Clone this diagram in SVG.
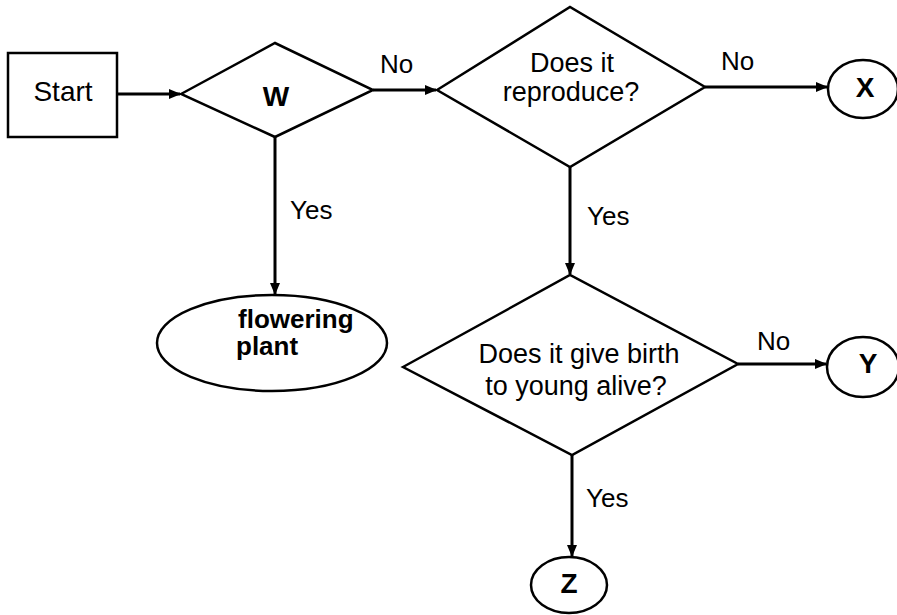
<svg xmlns="http://www.w3.org/2000/svg" width="897" height="615" viewBox="0 0 897 615">
<style>
.shape{fill:#fff;stroke:#000;stroke-width:2.5}
.conn{fill:none;stroke:#000;stroke-width:3}
text{font-family:"Liberation Sans",Arial,sans-serif;fill:#000}
.lbl{font-size:26px}
.q{font-size:27px;text-anchor:middle}
.big{font-size:28px;font-weight:bold;text-anchor:middle}
</style>
<defs>
<marker id="ah" markerUnits="userSpaceOnUse" markerWidth="12" markerHeight="10" refX="11" refY="5" orient="auto">
<path d="M0,0 L12,5 L0,10 Z" fill="#000"/>
</marker>
</defs>
<g id="connectors">
<line class="conn" x1="117" y1="94" x2="180" y2="94" marker-end="url(#ah)"/>
<line class="conn" x1="373" y1="90" x2="436" y2="90" marker-end="url(#ah)"/>
<line class="conn" x1="275" y1="137" x2="275" y2="294" marker-end="url(#ah)"/>
<line class="conn" x1="705" y1="87" x2="827" y2="87" marker-end="url(#ah)"/>
<line class="conn" x1="570" y1="167" x2="570" y2="274" marker-end="url(#ah)"/>
<line class="conn" x1="738" y1="364" x2="826" y2="364" marker-end="url(#ah)"/>
<line class="conn" x1="572" y1="455" x2="572" y2="556" marker-end="url(#ah)"/>
<text class="lbl" x="380" y="73">No</text>
<text class="lbl" x="290" y="219">Yes</text>
<text class="lbl" x="721" y="70">No</text>
<text class="lbl" x="587" y="225">Yes</text>
<text class="lbl" x="757" y="350">No</text>
<text class="lbl" x="586" y="507">Yes</text>
</g>
<g id="start">
<rect class="shape" x="8" y="53" width="109" height="84"/>
<text x="63" y="101" font-size="28" text-anchor="middle">Start</text>
</g>
<g id="w">
<polygon class="shape" points="181,94 275,43 373,90 275,137"/>
<text class="big" x="276" y="106">W</text>
</g>
<g id="reproduce">
<polygon class="shape" points="437,90 570,7 705,87 570,167"/>
<text class="q" x="572" y="72">Does it</text>
<text class="q" x="571" y="101">reproduce?</text>
</g>
<g id="x">
<ellipse class="shape" cx="863" cy="89" rx="35" ry="29"/>
<text class="big" x="865" y="97">X</text>
</g>
<g id="flowering">
<ellipse class="shape" cx="272" cy="343" rx="115" ry="48"/>
<text x="238" y="328" font-size="26" font-weight="bold">flowering</text>
<text x="236" y="355" font-size="26" font-weight="bold">plant</text>
</g>
<g id="birth">
<polygon class="shape" points="403,367 570,275 738,364 572,455"/>
<text class="q" x="579" y="363">Does it give birth</text>
<text class="q" x="576" y="395">to young alive?</text>
</g>
<g id="y">
<ellipse class="shape" cx="863" cy="367" rx="36" ry="30"/>
<text class="big" x="868" y="373">Y</text>
</g>
<g id="z">
<ellipse class="shape" cx="569" cy="585" rx="38" ry="28"/>
<text class="big" x="569" y="593">Z</text>
</g>
</svg>
